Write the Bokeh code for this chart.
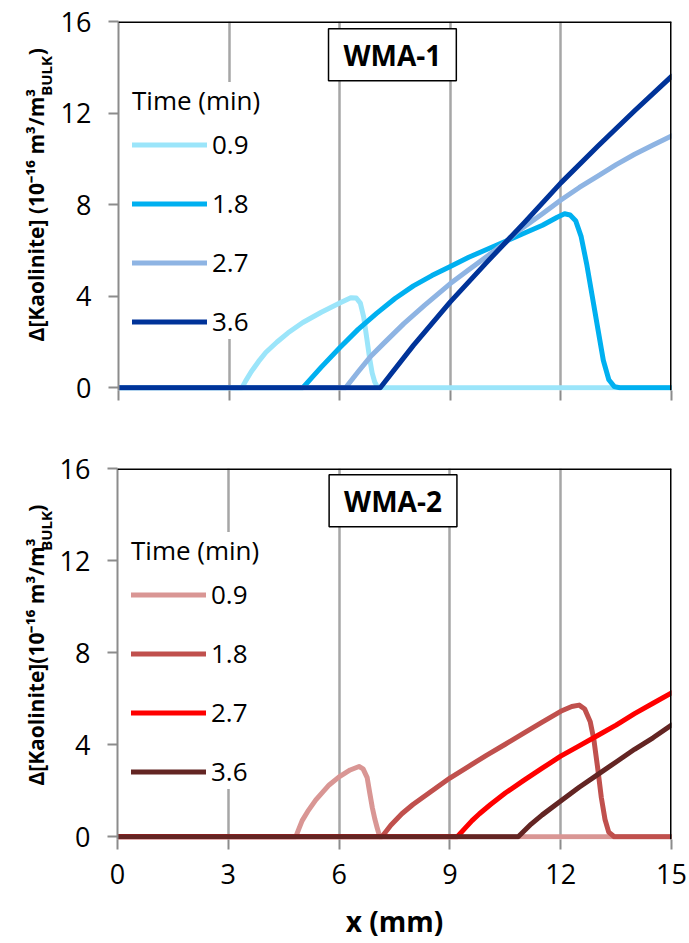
from math import pi
from bokeh.plotting import figure
from bokeh.models import Range1d, Span, Label, Legend, LegendItem, FixedTicker
from bokeh.layouts import column, row
from bokeh.embed import file_html
from bokeh.resources import INLINE

FONT = "Open Sans"

X_TICKS = [0, 3, 6, 9, 12, 15]
Y_TICKS = [0, 4, 8, 12, 16]
TIME_LABELS = ["0.9", "1.8", "2.7", "3.6"]
PANEL_TITLES = ["WMA-1", "WMA-2"]
X_LABEL = "x (mm)"
LEGEND_TITLE = "Time (min)"
# y-axis titles: main part (with superscripts), subscript and closing bracket
YLABEL_TOP = ("Δ[Kaolinite] (10\u207B\u00B9\u2076 m\u00B3/m\u00B3", "BULK", ")")
YLABEL_BOT = ("Δ[Kaolinite](10\u207B\u00B9\u2076 m\u00B3/m\u00B3", "BULK", ")")

# ---- WMA-1 (x in mm, value in 1e-16 m3/m3 bulk) ----
wma1_09_x = [0, 3.35, 3.45, 3.6, 3.8, 4.0, 4.3, 4.6, 5.0, 5.5, 6.0, 6.3, 6.45, 6.56, 6.65,
             6.74, 6.81, 6.88, 6.95, 7.02, 7.1, 15]
wma1_09_y = [0, 0, 0.3, 0.7, 1.15, 1.55, 2.0, 2.4, 2.85, 3.3, 3.7, 3.93, 3.92, 3.7, 3.1,
             2.1, 1.3, 0.65, 0.25, 0.05, 0, 0]

wma1_18_x = [0, 5.0, 5.25, 5.5, 6.0, 6.5, 7.0, 7.5, 8.0, 8.5, 9.0, 9.5, 10.0, 10.5, 11.0, 11.5,
             11.9, 12.1, 12.25, 12.4, 12.55, 12.7, 12.85, 13.0, 13.15, 13.3, 13.45, 13.6, 15]
wma1_18_y = [0, 0, 0.45, 0.9, 1.75, 2.55, 3.25, 3.9, 4.45, 4.9, 5.3, 5.7, 6.05, 6.4, 6.75, 7.1,
             7.45, 7.6, 7.55, 7.3, 6.6, 5.4, 4.0, 2.6, 1.2, 0.35, 0.05, 0, 0]

wma1_27_x = [0, 6.16, 6.5, 6.83, 7.2, 7.74, 8.3, 9.0, 9.5, 10.0, 10.5, 10.8, 11.5, 12.0, 12.5,
             13.0, 13.5, 14.0, 14.5, 15]
wma1_27_y = [0, 0, 0.7, 1.35, 1.95, 2.8, 3.6, 4.55, 5.15, 5.75, 6.35, 6.8, 7.6, 8.2, 8.75,
             9.25, 9.75, 10.2, 10.6, 11.0]

wma1_36_x = [0, 7.1, 8.0, 9.0, 10.0, 11.0, 12.0, 13.0, 14.0, 15]
wma1_36_y = [0, 0, 1.85, 3.75, 5.5, 7.2, 8.95, 10.55, 12.1, 13.6]

# ---- WMA-2 ----
wma2_09_x = [0, 4.83, 4.9, 5.0, 5.15, 5.37, 5.73, 6.0, 6.3, 6.54, 6.65, 6.76, 6.83, 6.9, 6.97,
             7.03, 7.1, 15]
wma2_09_y = [0, 0, 0.3, 0.7, 1.1, 1.6, 2.25, 2.6, 2.9, 3.05, 2.95, 2.57, 1.9, 1.26, 0.75,
             0.39, 0, 0]

wma2_18_x = [0, 7.16, 7.4, 7.7, 8.0, 8.5, 9.0, 9.5, 10.0, 10.5, 11.0, 11.5, 12.0, 12.3,
             12.5, 12.65, 12.8, 12.9, 13.0, 13.1, 13.2, 13.3, 13.45, 15]
wma2_18_y = [0, 0, 0.5, 1.0, 1.4, 1.98, 2.55, 3.05, 3.55, 4.02, 4.5, 4.98, 5.45, 5.66,
             5.72, 5.55, 5.0, 4.2, 3.0, 1.7, 0.75, 0.2, 0, 0]

wma2_27_x = [0, 9.2, 9.4, 9.6, 9.8, 10.1, 10.5, 11.0, 11.5, 12.0, 12.5, 13.0, 13.5, 14.0,
             14.5, 15]
wma2_27_y = [0, 0, 0.35, 0.7, 1.0, 1.4, 1.9, 2.45, 2.98, 3.5, 3.95, 4.4, 4.85, 5.35,
             5.8, 6.25]

wma2_36_x = [0, 10.85, 11.2, 11.5, 12.0, 12.5, 13.0, 13.5, 14.0, 14.5, 15]
wma2_36_y = [0, 0, 0.55, 0.95, 1.55, 2.15, 2.7, 3.25, 3.8, 4.3, 4.85]

WMA1_COLORS = ["#9BE5FA", "#00B0F0", "#8EB4E3", "#003399"]
WMA2_COLORS = ["#D99694", "#C0504D", "#FF0000", "#632523"]

WMA1_SERIES = [(wma1_09_x, wma1_09_y), (wma1_18_x, wma1_18_y),
               (wma1_27_x, wma1_27_y), (wma1_36_x, wma1_36_y)]
WMA2_SERIES = [(wma2_09_x, wma2_09_y), (wma2_18_x, wma2_18_y),
               (wma2_27_x, wma2_27_y), (wma2_36_x, wma2_36_y)]

Y0 = -0.12
GRID = "#A6A6A6"
AXIS = "#8C8C8C"
LAB_W = 56
MAIN_PX, SUB_PX = 21, 15


def make_label_fig(height, parts, end):
    """Rotated y-axis title anchored from its top end `end` (this figure's pixels):
    closing bracket, then the BULK subscript below it, then the main text ending
    where the subscript begins (under the last superscript)."""
    main, sub, close = parts
    f = figure(width=LAB_W, height=height, output_backend="svg", toolbar_location=None,
               x_range=Range1d(0, LAB_W), y_range=Range1d(height, 0),
               x_axis_location=None, y_axis_location=None,
               min_border_left=0, min_border_right=0, min_border_top=0, min_border_bottom=0)
    f.outline_line_color = None
    f.grid.visible = False
    common = dict(angle=pi / 2, text_baseline="alphabetic", text_font=FONT,
                  text_font_style="bold", text_color="black", text_align="right")
    paren_len = 8
    sub_len = 46
    sup_len = 8
    f.add_layout(Label(x=35, y=end, text=close, text_font_size=f"{MAIN_PX}px", **common))
    f.add_layout(Label(x=45, y=end + paren_len + 1, text=sub,
                       text_font_size=f"{SUB_PX}px", **common))
    f.add_layout(Label(x=35, y=end + paren_len + 1 + sub_len - sup_len, text=main,
                       text_font_size=f"{MAIN_PX}px", **common))
    return f


def make_panel(series, colors, title, height, b_left, b_top, b_bottom, show_xlabels,
               legend_loc):
    p = figure(width=689 - LAB_W, height=height, output_backend="svg", toolbar_location=None,
               x_range=Range1d(0, 15), y_range=Range1d(Y0, 16),
               min_border_left=b_left, min_border_right=18,
               min_border_top=b_top, min_border_bottom=b_bottom)
    p.outline_line_color = None

    p.yaxis.ticker = Y_TICKS
    for ax in (p.xaxis, p.yaxis):
        ax.axis_line_color = AXIS
        ax.axis_line_width = 2
        ax.major_tick_line_color = AXIS
        ax.major_tick_line_width = 2
        ax.major_tick_out = 10
        ax.major_tick_in = 0
        ax.minor_tick_line_color = None
        ax.major_label_text_font = FONT
        ax.major_label_text_font_size = "27px"
        ax.major_label_text_color = "black"
    p.xaxis.axis_line_color = None
    p.yaxis.major_label_standoff = 17
    p.xgrid.ticker = FixedTicker(ticks=X_TICKS)
    if show_xlabels:
        p.xaxis.ticker = X_TICKS
        p.xaxis.major_label_standoff = 14
        p.xaxis.axis_label = X_LABEL
        p.xaxis.axis_label_text_font = FONT
        p.xaxis.axis_label_text_font_size = "28px"
        p.xaxis.axis_label_text_font_style = "bold"
        p.xaxis.axis_label_text_color = "black"
        p.xaxis.axis_label_standoff = 15
    else:
        p.xaxis.ticker = FixedTicker(ticks=[], minor_ticks=X_TICKS)
        p.xaxis.minor_tick_line_color = AXIS
        p.xaxis.minor_tick_line_width = 2
        p.xaxis.minor_tick_out = 10
        p.xaxis.minor_tick_in = 0

    p.xgrid.grid_line_color = GRID
    p.xgrid.grid_line_width = 2.5
    p.ygrid.grid_line_color = None

    p.add_layout(Span(location=16, dimension="width", line_color="black", line_width=3))
    p.add_layout(Span(location=15, dimension="height", line_color="black", line_width=3))

    items = []
    for (xs, ys), c, lab in zip(series, colors, TIME_LABELS):
        r = p.line(xs, ys, line_width=5, line_color=c, line_cap="round", line_join="round")
        items.append(LegendItem(label=lab, renderers=[r]))

    leg = Legend(items=items, title=LEGEND_TITLE, location=legend_loc,
                 title_text_font=FONT, title_text_font_size="26px",
                 title_text_font_style="normal", title_text_color="black",
                 title_standoff=8,
                 label_text_font=FONT, label_text_font_size="26px", label_text_color="black",
                 glyph_width=75, glyph_height=35, label_height=35, label_standoff=5,
                 spacing=23, padding=8, margin=0,
                 border_line_color=None, background_fill_color="white",
                 background_fill_alpha=1.0)
    p.add_layout(leg)

    text, tx, ty = title
    p.add_layout(Label(x=tx, y=ty, text=text, text_align="center",
                       text_baseline="middle", text_font=FONT, text_font_size="28px",
                       text_font_style="bold", text_color="black",
                       border_line_color="black", border_line_width=1.5,
                       background_fill_color="white", padding=(15, 15, 7, 7)))
    return p


H1, H2 = 428, 515
p1 = make_panel(WMA1_SERIES, WMA1_COLORS, (PANEL_TITLES[0], 7.43, 14.55), H1,
                118 - LAB_W, 21, 38, False, (14, 51))
p2 = make_panel(WMA2_SERIES, WMA2_COLORS, (PANEL_TITLES[1], 7.46, 14.6), H2,
                114 - LAB_W, 40, 104, True, (14, 50))
l1 = make_label_fig(H1, YLABEL_TOP, 31)
l2 = make_label_fig(H2, YLABEL_BOT, 478 - H1)

layout = column(row(l1, p1, spacing=0), row(l2, p2, spacing=0), spacing=0)
open("out.html", "w").write(file_html(layout, INLINE))
